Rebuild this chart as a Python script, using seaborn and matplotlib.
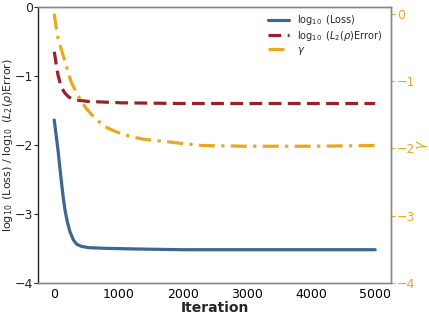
import pandas as pd
import matplotlib
matplotlib.use("Agg")
import matplotlib.pyplot as plt
import seaborn as sns

# values
loss_iter = [0, 30, 62, 90, 115, 140, 167, 200, 245, 300, 349, 420, 531, 800, 1313, 2000, 3000, 4000, 5000]
loss_val = [-1.64, -1.86, -2.10, -2.35, -2.56, -2.76, -2.94, -3.10, -3.26, -3.38, -3.44, -3.47, -3.49,
            -3.50, -3.51, -3.52, -3.52, -3.52, -3.52]

err_iter = [0, 20, 36, 60, 88, 120, 167, 220, 270, 350, 531, 1047, 2000, 3000, 4000, 5000]
err_val = [-0.65, -0.76, -0.88, -0.99, -1.09, -1.18, -1.25, -1.30, -1.33, -1.35, -1.37, -1.39,
           -1.40, -1.40, -1.40, -1.40]

gam_iter = [0, 30, 62, 110, 167, 220, 270, 350, 427, 500, 583, 680, 792, 950, 1105, 1250, 1417,
            1730, 2000, 2300, 3000, 4000, 5000]
gam_val = [0.0, -0.20, -0.38, -0.53, -0.71, -0.88, -1.03, -1.18, -1.31, -1.41, -1.50, -1.59, -1.68,
           -1.75, -1.80, -1.84, -1.87, -1.90, -1.93, -1.96, -1.97, -1.97, -1.96]

c_loss = "#3d6690"
c_err = "#992127"
c_gam = "#eaa81f"

sns.set_style("white")

fig, ax = plt.subplots(figsize=(4.29, 3.16), dpi=100)
ax2 = ax.twinx()

sns.lineplot(x=loss_iter, y=loss_val, ax=ax, color=c_loss, lw=2.3, label=r"$\log_{10}$ (Loss)")
sns.lineplot(x=err_iter, y=err_val, ax=ax, color=c_err, lw=2.3, linestyle=(0, (4, 2)),
             label=r"$\log_{10}$ ($L_2(\rho)$Error)")
sns.lineplot(x=gam_iter, y=gam_val, ax=ax2, color=c_gam, lw=2.3, linestyle=(0, (5, 2, 1, 2)),
             label=r"$\gamma$")

ax.set_xlim(-250, 5250)
ax.set_ylim(-4, 0)
ax2.set_ylim(-4, 0.1)
ax.set_yticks([-4, -3, -2, -1, 0])
ax2.set_yticks([-4, -3, -2, -1, 0])
ax.set_xticks([0, 1000, 2000, 3000, 4000, 5000])

ax.set_xlabel("Iteration", fontsize=10, fontweight="bold", labelpad=0)
ax.set_ylabel(r"$\log_{10}$ (Loss) / $\log_{10}$ ($L_2(\rho)$Error)", fontsize=8.0)
ax.yaxis.set_label_coords(-0.066, 0.5)
ax2.set_ylabel(r"$\gamma$", fontsize=10, color=c_gam)
ax2.yaxis.set_label_coords(1.068, 0.5)

ax.tick_params(axis="both", labelsize=9, length=3, direction="out", pad=1)
ax.tick_params(axis="x", colors="#888888", labelcolor="black")
ax2.tick_params(axis="y", labelsize=9, length=3, colors=c_gam, pad=1)

for a in (ax, ax2):
    for s in a.spines.values():
        s.set_color("#888888")
        s.set_linewidth(1.0)
ax.spines["left"].set_color("#222222")
ax2.spines["left"].set_visible(False)

h1, l1 = ax.get_legend_handles_labels()
h2, l2 = ax2.get_legend_handles_labels()
if ax2.get_legend():
    ax2.get_legend().remove()
ax.legend(h1 + h2, l1 + l2, loc="upper right", bbox_to_anchor=(1.0, 1.01), frameon=False,
          fontsize=7, handlelength=2.2, labelspacing=0.2, handletextpad=0.8)

plt.subplots_adjust(left=0.089, right=0.912, top=0.978, bottom=0.105)
fig.savefig("out.png", dpi=100)
